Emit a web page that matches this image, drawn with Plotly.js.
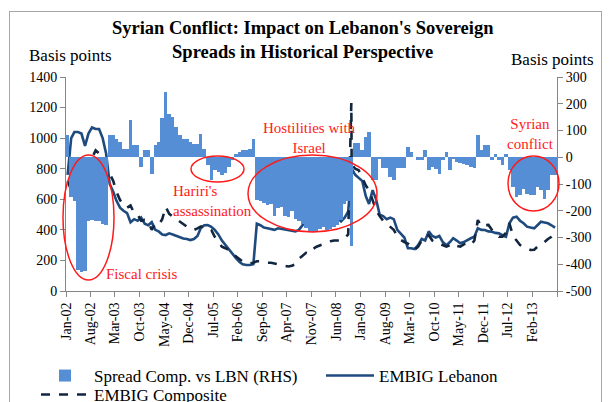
<!DOCTYPE html>
<html><head><meta charset="utf-8">
<script src="https://cdn.plot.ly/plotly-3.0.1.min.js"></script>
<style>
html,body{margin:0;padding:0;background:#fff;overflow:hidden;}
#wrap{position:relative;width:609px;height:402px;overflow:hidden;}
#chart{width:609px;height:430px;}
#frame{position:absolute;left:9px;top:11px;width:591px;height:400px;border:1px solid #a6a6a6;pointer-events:none;}
</style></head><body>
<div id="wrap"><div id="chart"></div><div id="frame"></div></div>
<script>
// monthly data, Jan-2002 .. Aug-2013
const startYear = 2002;
const spreadComp = [
 82,-150,-165,-420,-430,-425,-238,-235,-240,-240,-250,-254,
 82,82,70,57,30,30,138,45,45,-36,26,26,
 -61,45,57,145,244,163,150,113,82,70,70,57,
 50,50,88,32,-30,-86,-49,-55,-67,-60,-36,-11,
 14,20,26,26,32,70,-160,-165,-170,-180,-175,-220,
 -190,-185,-220,-225,-200,-230,-240,-250,-265,-275,-280,-275,
 -270,-260,-272,-270,-262,-255,-235,-175,-165,-330,52,52,
 26,76,95,-86,-86,-5,-40,-40,-75,-86,-40,-40,
 -40,39,20,0,-11,-11,26,-49,-36,-45,-61,-11,
 20,-49,-5,-17,-22,-25,-30,-36,-42,82,26,45,
 45,-11,14,-11,-30,14,-49,-111,-148,-140,-117,-136,
 -142,-142,-111,-123,-155,-123,-67,-67
];
const embigLebanon = [
 760,1000,1040,1040,1030,950,1030,1070,1060,1060,1000,900,
 700,650,590,545,525,510,450,470,460,480,440,430,
 450,400,390,370,366,377,370,360,350,344,340,333,
 340,360,410,430,432,420,400,370,330,300,270,240,
 215,190,175,170,170,175,440,430,415,410,405,400,
 410,405,400,395,390,390,400,430,460,500,520,545,
 560,570,600,560,500,480,455,480,520,800,760,740,
 720,620,570,660,600,500,490,470,480,470,400,375,
 350,280,280,275,300,340,330,390,360,350,360,320,
 300,320,345,330,312,320,334,345,355,410,400,399,
 390,388,380,377,365,355,443,480,486,460,443,421,
 415,410,430,453,448,443,430,415
];
const embigComposite = [
 720,660,620,590,610,700,820,870,920,900,850,790,
 770,720,650,595,560,545,560,510,500,460,465,455,
 400,440,432,470,550,505,487,470,453,440,421,410,
 399,410,421,421,410,399,355,320,290,280,268,245,
 225,205,192,185,181,185,195,195,190,185,185,180,
 175,170,165,160,165,175,210,230,250,245,275,290,
 300,310,320,325,330,330,330,345,370,830,800,790,
 740,690,660,600,530,490,460,440,420,400,360,335,
 320,310,295,270,290,330,355,365,330,315,310,300,
 290,300,312,295,290,305,312,300,330,464,421,430,
 432,399,380,355,355,380,443,360,330,301,290,279,
 268,270,290,300,323,340,355,377
];
const compositeSpike = {date: '2008-10-12', value: 1230};
const tickLabels = ['Jan-02','Aug-02','Mar-03','Oct-03','May-04','Dec-04','Jul-05','Feb-06',
 'Sep-06','Apr-07','Nov-07','Jun-08','Jan-09','Aug-09','Mar-10','Oct-10','May-11','Dec-11',
 'Jul-12','Feb-13',''];
const tickStepMonths = 7;

function monthDate(m, day){
  const y = startYear + Math.floor(m/12);
  const mo = (m % 12) + 1;
  return y + '-' + String(mo).padStart(2,'0') + '-' + String(day).padStart(2,'0');
}
const xMid = spreadComp.map((_, i) => monthDate(i, 15));
const tickVals = tickLabels.map((_, i) => monthDate(i*tickStepMonths, 1));

// composite series with the single-day spike inserted in date order
const compX = [], compY = [];
embigComposite.forEach((v, i) => {
  if (xMid[i] > compositeSpike.date && (i === 0 || xMid[i-1] < compositeSpike.date)) {
    compX.push(compositeSpike.date); compY.push(compositeSpike.value);
  }
  compX.push(xMid[i]); compY.push(v);
});

const FONT = 'Liberation Serif, Times New Roman, serif';
const AX = '#868686';
const y2vals = [-500,-400,-300,-200,-100,0,100,200,300];
const H = 430;

const traces = [
  {type:'bar', name:'Spread Comp. vs LBN (RHS)', x:xMid, y:spreadComp, yaxis:'y2', legend:'legend',
   width: 31*86400000, marker:{color:'#558ED5', line:{width:0}}},
  {type:'scatter', mode:'lines', name:'EMBIG Lebanon', x:xMid, y:embigLebanon, legend:'legend2',
   line:{color:'#1F4A7E', width:2.6}},
  {type:'scatter', mode:'lines', name:'EMBIG Composite', x:compX, y:compY, legend:'legend3',
   line:{color:'#12263F', width:2.6, dash:'dash'}}
];

function px2x(px){ return (px-66)/491; }
function py2y(py){ return (291-py)/214; }
const red = '#FF1A1A';
function ell(x0,x1,y0,y1){ return {type:'circle', xref:'paper', yref:'paper',
  x0:px2x(x0), x1:px2x(x1), y0:py2y(y1), y1:py2y(y0), line:{color:red, width:1.5}}; }
function leg(xpx, ypx){ return {orientation:'h', x:px2x(xpx), xanchor:'left', y:py2y(ypx), yanchor:'top',
  font:{family:FONT, size:17}, bgcolor:'rgba(0,0,0,0)', itemwidth:48}; }
function note(text, xpx, ypx, size, color, xanchor, align){
  return {text:text, xref:'paper', yref:'paper', x:px2x(xpx), y:py2y(ypx), showarrow:false,
    xanchor:xanchor||'center', yanchor:'middle', align:align||'center',
    font:{family:FONT, size:size, color:color}};
}

const layout = {
  width:609, height:H,
  margin:{l:66, r:52, t:77, b:H-291},
  paper_bgcolor:'#fff', plot_bgcolor:'#fff',
  font:{family:FONT, size:14, color:'#000'},
  showlegend:true,
  bargap:0,
  title:{text:"<b>Syrian Conflict: Impact on Lebanon's Sovereign<br>Spreads in Historical Perspective</b>",
    font:{family:FONT, size:18.5, color:'#000'}, xref:'container', x:0.497, xanchor:'center',
    yref:'container', y:1-34/H, yanchor:'top'},
  xaxis:{type:'date', range:['2002-01-01','2013-09-01'], tickvals:tickVals, ticktext:tickLabels,
    tickangle:-90, ticks:'outside', ticklen:5, tickcolor:AX, showline:true, linecolor:AX,
    showgrid:false, zeroline:false, tickfont:{family:FONT, size:14}},
  yaxis:{range:[0,1400], dtick:200, ticks:'outside', ticklen:5, tickcolor:AX, showline:true,
    linecolor:AX, showgrid:false, zeroline:false, tickfont:{family:FONT, size:14}},
  yaxis2:{overlaying:'y', side:'right', range:[-500,300], tickvals:y2vals, ticktext:y2vals.map(String),
    ticks:'outside', ticklen:5, tickcolor:AX, showline:true, linecolor:AX, showgrid:false,
    zeroline:false, tickfont:{family:FONT, size:14}},
  legend: leg(36, 358),
  legend2: leg(321, 358),
  legend3: leg(36, 377),
  annotations:[
    note('Basis points', 70, 55, 17, '#000'),
    note('Basis points', 552, 59, 17, '#000'),
    note('Fiscal crisis', 141, 274, 15, red),
    note("Hariri's<br>assassination", 171, 201, 15, red, 'left', 'left'),
    note('Hostilities with<br>Israel', 309, 138, 15, red),
    note('Syrian<br>conflict', 530, 134, 15, red)
  ],
  shapes:[ ell(63,114,155,280), ell(191,244,156,182), ell(248,377,155,232), ell(508,559,156,211) ]
};

Plotly.newPlot('chart', traces, layout, {displayModeBar:false, staticPlot:true});
</script>
</body></html>
